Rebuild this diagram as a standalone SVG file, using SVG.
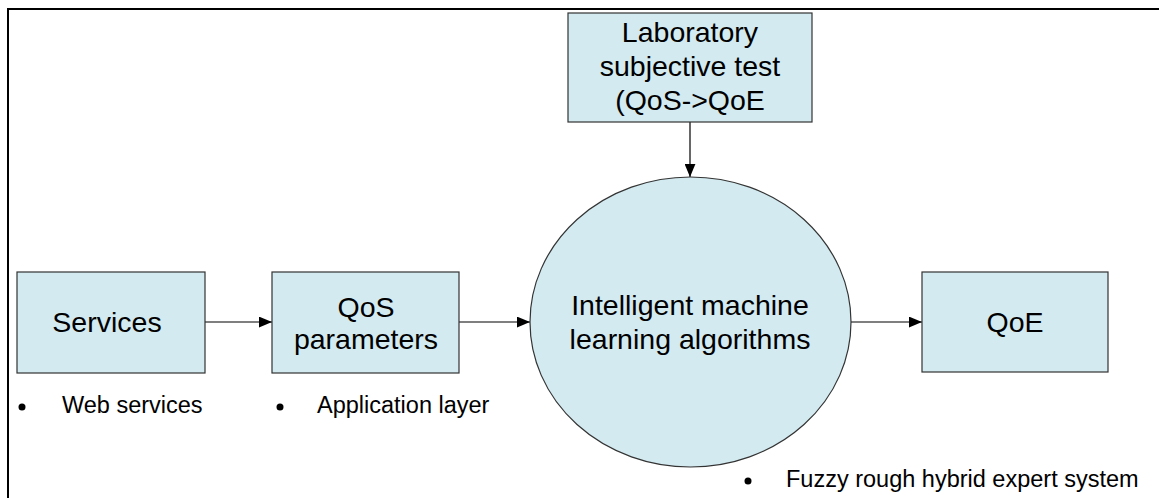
<svg xmlns="http://www.w3.org/2000/svg" width="1159" height="498" viewBox="0 0 1159 498">
<defs>
<style>
.box{fill:#d2eaf0;stroke:#333;stroke-width:1.2}
.t{font-family:"Liberation Sans",Arial,sans-serif;font-size:28.5px;fill:#000;text-anchor:middle}
.s{font-family:"Liberation Sans",Arial,sans-serif;font-size:23.5px;fill:#000}
.c{stroke:#000;stroke-width:1.2;fill:none}
</style>
<marker id="ah" viewBox="0 0 12 10" refX="12" refY="5" markerWidth="13" markerHeight="11" markerUnits="userSpaceOnUse" orient="auto">
<path d="M0,0 L12,5 L0,10 Z" fill="#000"/>
</marker>
</defs>
<rect x="0" y="0" width="1159" height="498" fill="#fff"/>
<rect x="8" y="9" width="1160" height="500" fill="none" stroke="#000" stroke-width="2"/>
<g id="connectors">
<line class="c" x1="690" y1="122" x2="690" y2="177" marker-end="url(#ah)"/>
<line class="c" x1="205" y1="322" x2="272" y2="322" marker-end="url(#ah)"/>
<line class="c" x1="459" y1="322" x2="530" y2="322" marker-end="url(#ah)"/>
<line class="c" x1="851" y1="322" x2="922" y2="322" marker-end="url(#ah)"/>
</g>
<g id="lab">
<rect class="box" x="568" y="13" width="244" height="109"/>
<text class="t" x="690" y="42">Laboratory</text>
<text class="t" x="690" y="76">subjective test</text>
<text class="t" x="690" y="110">(QoS-&gt;QoE</text>
</g>
<g id="services">
<rect class="box" x="17" y="272" width="188" height="101"/>
<text class="t" x="107" y="332">Services</text>
</g>
<g id="qos">
<rect class="box" x="272" y="272" width="187" height="101"/>
<text class="t" x="366" y="317">QoS</text>
<text class="t" x="366" y="349">parameters</text>
</g>
<g id="ml">
<ellipse class="box" cx="690.5" cy="322" rx="160.5" ry="145"/>
<text class="t" x="690" y="315">Intelligent machine</text>
<text class="t" x="690" y="349">learning algorithms</text>
</g>
<g id="qoe">
<rect class="box" x="922" y="272" width="186" height="100"/>
<text class="t" x="1015" y="332">QoE</text>
</g>
<g id="notes">
<circle cx="22" cy="407" r="3.5" fill="#000"/>
<text class="s" x="62" y="413">Web services</text>
<circle cx="280" cy="407" r="3.5" fill="#000"/>
<text class="s" x="317" y="413">Application layer</text>
<circle cx="748" cy="481" r="3.5" fill="#000"/>
<text class="s" x="786" y="487">Fuzzy rough hybrid expert system</text>
</g>
</svg>
